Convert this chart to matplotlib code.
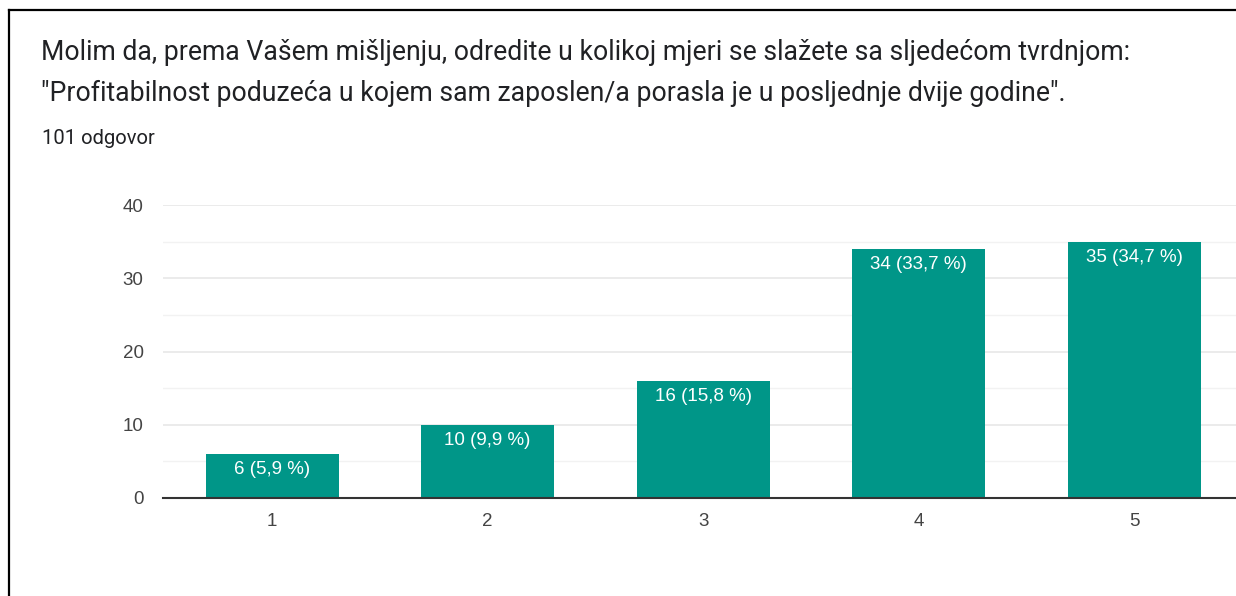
import matplotlib.pyplot as plt
from matplotlib.lines import Line2D
from matplotlib.ticker import MultipleLocator

# survey answers (scale 1-5)
categories = ['1', '2', '3', '4', '5']
counts = [6, 10, 16, 34, 35]
percents = ['5,9', '9,9', '15,8', '33,7', '34,7']

title_lines = ['Molim da, prema Vašem mišljenju, odredite u kolikoj mjeri se slažete sa sljedećom tvrdnjom:',
               '"Profitabilnost poduzeća u kojem sam zaposlen/a porasla je u posljednje dvije godine".']
subtitle = '101 odgovor'

plt.rcParams['font.family'] = ['Roboto', 'DejaVu Sans']
chart_font = ['Liberation Sans', 'DejaVu Sans']

W, H = 1236, 596
fig = plt.figure(figsize=(W / 100, H / 100), dpi=100)

# frame of the screenshot (left and top only)
fig.add_artist(Line2D([8.5 / W, 8.5 / W], [0, 1 - 10 / H], color='black', lw=1.6,
                      transform=fig.transFigure))
fig.add_artist(Line2D([8.5 / W, 1], [1 - 10 / H, 1 - 10 / H], color='black', lw=1.6,
                      transform=fig.transFigure))

for i, line in enumerate(title_lines):
    fig.text(41 / W, 1 - (50 + 40 * i) / H, line, fontsize=19.2, color='#202124',
             va='center_baseline')
fig.text(42 / W, 1 - 137 / H, subtitle, fontsize=14.5, color='#202124', va='center_baseline')

ax = fig.add_axes([163 / W, 1 - 498 / H, 1 - 163 / W, (498 - 205) / H])
x = list(range(len(categories)))
bars = ax.bar(x, counts, width=0.617, color='#009688', zorder=3)

for b, c, p in zip(bars, counts, percents):
    ax.text(b.get_x() + b.get_width() / 2, c - 1.0, f'{c} ({p} %)', ha='center', va='top',
            color='white', fontsize=13.5, family=chart_font, zorder=4)

ax.set_xlim(-0.506, 4.471)
ax.set_ylim(0, 40)
ax.set_xticks(x)
ax.set_xticklabels(categories, family=chart_font)
ax.yaxis.set_major_locator(MultipleLocator(10))
ax.yaxis.set_minor_locator(MultipleLocator(5))
for lbl in ax.get_yticklabels():
    lbl.set_family(chart_font)
ax.grid(axis='y', which='major', color='#e8e8e8', lw=1.2, zorder=0)
ax.grid(axis='y', which='minor', color='#f2f2f2', lw=1.0, zorder=0)
ax.tick_params(axis='both', which='both', length=0, labelsize=13.5, labelcolor='#444444')
ax.tick_params(axis='y', pad=14)
ax.tick_params(axis='x', pad=11)
for s in ['top', 'right', 'left']:
    ax.spines[s].set_visible(False)
ax.spines['bottom'].set_color('#333333')
ax.spines['bottom'].set_linewidth(1.5)
ax.spines['bottom'].set_zorder(5)

fig.savefig('out.png', dpi=100)
